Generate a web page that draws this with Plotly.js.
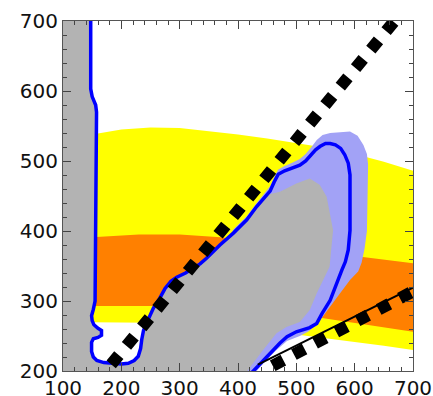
<!DOCTYPE html>
<html>
<head>
<meta charset="utf-8">
<script src="https://cdn.plot.ly/plotly-3.0.1.min.js"></script>
<style>html,body{margin:0;padding:0;background:#fff;}#chart{width:433px;height:396px;}</style>
</head>
<body>
<div id="chart"></div>
<script>
// ---- data ----
const yellowTopX = [100,150,200,250,300,350,400,450,500,550,600,650,700];
const yellowTopY = [535,538,545,548,547,543,538,532,526,519,510,499,486];
const yellowBotX = [700,650,600,550,500,450,350,250,150,100];
const yellowBotY = [230,236,241,246,252,258,265,269,270,270];

const orangeTopX = [100,150,230,300,370,450,530,614,700];
const orangeTopY = [390,391,395,395,391,383,375,363,354];
const orangeBotX = [700,621,541,450,350,250,150,100];
const orangeBotY = [256,266,276,285,291,293,293,293];

const blueX = [147.5,147.5,150,156,157.5,157,156.5,157,156,155,152,149,150,153,160,166,166,160,152,149,149,152,158,170,185,200,212,222,229,233,235,238,243,255,266,275,285,295,310,320,335,346,369,392,415,432,443,
               455,462,469,480,492,506,516,526,533,541,550,558,567,576,583,589,592,592,592,589,584,578,569,558,544,535,523,500,484,472,455,443,432,424];
const blueY = [700,603,592,580,570,500,444,380,320,300,288,279,272,266,261,258,251,248,246,241,228,220,215,212,211,210,211,215,221,232,245,258,268,290,304,318,328,334,340,345,353,361,380,397,416,435,445,
               457,470,481,486,490,494,500,509,516,521,525,525,523,518,509,497,480,444,401,373,356,344,325,301,282,268,262,256,249,240,225,215,205,198];
const blueDiagEnd = 47; // number of blue-path points shared with the gray edge

const grayBlobX = [452,472,500,523,540,552,560,563,560,557,546,535,523,506,483,466,443,421,416];
const grayBlobY = [452,456,468,475,466,449,416,401,375,349,330,311,287,270,263,254,230,206,200];

const lightBlueX = [400,380,392,415,432,443,455,462,469,480,492,506,516,526,535,545,558,575,592,605,615,621,623,622,621,617,612,606,592,575,558,546,535,520,506,484,466,449,436,432,400];
const lightBlueY = [205,380,402,421,440,451,464,477,488,493,497,503,510,520,530,537,540,541,542,536,523,510,495,444,400,375,355,342,330,311,292,278,266,256,250,243,230,216,204,200,200];

const diagDotX = [182.6, 680];
const diagDotY = [209.5, 711.9];
const lowDotX = [459.5, 720];
const lowDotY = [207.5, 322.6];
const solidX = [434, 700];
const solidY = [209, 319];

// ---- build polygons ----
const yellowX = yellowTopX.concat(yellowBotX), yellowY = yellowTopY.concat(yellowBotY);
const orangeX = orangeTopX.concat(orangeBotX), orangeY = orangeTopY.concat(orangeBotY);
const grayX = [100].concat(blueX.slice(0, blueDiagEnd), grayBlobX, [100]);
const grayY = [700].concat(blueY.slice(0, blueDiagEnd), grayBlobY, [200]);

function poly(x, y, color) {
  return {x, y, type: 'scatter', mode: 'lines', fill: 'toself', fillcolor: color,
          line: {width: 0, color: color}, hoverinfo: 'skip'};
}
const traces = [
  poly(yellowX, yellowY, '#ffff00'),
  poly(orangeX, orangeY, '#ff8000'),
  poly(lightBlueX, lightBlueY, '#a2a2f6'),
  poly(grayX, grayY, '#b3b3b3'),
  {x: blueX, y: blueY, type: 'scatter', mode: 'lines', line: {color: '#0000ff', width: 3.5}, hoverinfo: 'skip'},
  {x: solidX, y: solidY, type: 'scatter', mode: 'lines', line: {color: '#000000', width: 2}, hoverinfo: 'skip'},
  {x: diagDotX, y: diagDotY, type: 'scatter', mode: 'lines', line: {color: '#000000', width: 12, dash: '12px,12px'}, hoverinfo: 'skip'},
  {x: lowDotX, y: lowDotY, type: 'scatter', mode: 'lines', line: {color: '#000000', width: 12, dash: '12px,12px'}, hoverinfo: 'skip'}
];

const tickFont = {family: 'DejaVu Sans', size: 20, color: '#111111'};
const axisCommon = {
  showgrid: false, zeroline: false, showline: true, linecolor: '#555555', linewidth: 1,
  mirror: 'allticks', ticks: 'inside', ticklen: 8, tickwidth: 1, tickcolor: '#444444',
  tickfont: tickFont, fixedrange: true,
  minor: {dtick: 20, ticks: 'inside', ticklen: 4, tickwidth: 1, tickcolor: '#444444'}
};
const layout = {
  width: 433, height: 396,
  margin: {l: 63, r: 20, t: 21, b: 25, pad: 0},
  paper_bgcolor: '#ffffff', plot_bgcolor: '#ffffff',
  showlegend: false, hovermode: false,
  xaxis: Object.assign({}, axisCommon, {range: [100, 700], dtick: 100, tick0: 100, ticklabelstandoff: -1}),
  yaxis: Object.assign({}, axisCommon, {range: [200, 700], dtick: 100, tick0: 200})
};
Plotly.newPlot('chart', traces, layout, {displayModeBar: false, staticPlot: true});
</script>
</body>
</html>
